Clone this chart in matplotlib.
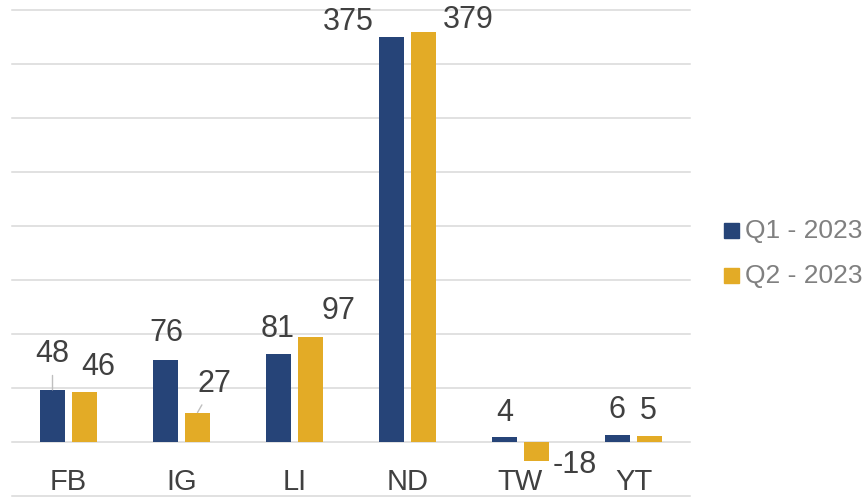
import matplotlib
matplotlib.use("Agg")
import matplotlib.pyplot as plt
import numpy as np

categories = ["FB", "IG", "LI", "ND", "TW", "YT"]
q1_values = [48, 76, 81, 375, 4, 6]
q2_values = [46, 27, 97, 379, -18, 5]
series_names = ["Q1 - 2023", "Q2 - 2023"]

BLUE = "#264478"
GOLD = "#E3AB26"
TEXT = "#404040"
GRID = "#d9d9d9"
FONT = "Liberation Sans"

W, H = 866, 499
fig = plt.figure(figsize=(W / 100, H / 100), dpi=100)
ax = fig.add_axes([12 / W, 1 - 495.7 / H, 678 / W, (495.7 - 9.5) / H])
ax.set_xlim(-0.5, len(categories) - 0.5)
ax.set_ylim(-50, 400)
ax.set_axis_off()

for yv in np.arange(-50, 401, 50):
    ax.axhline(yv, color=GRID, lw=1.1, zorder=0, clip_on=False)

x = np.arange(len(categories))
bw = 0.221
off = 0.1416
ax.bar(x - off, q1_values, bw, color=BLUE, zorder=2)
ax.bar(x + off, q2_values, bw, color=GOLD, zorder=2)

PX = 0.72  # pixels -> points at 100 dpi
# label offsets in pixels (dx, dy) for baseline relative to bar end
q1_off = [(0, 28.3), (0.7, 18.3), (-1, 17.6), (-43, 6.7), (0, 16.6), (0, 17)]
q2_off = [(13.5, 17), (16.7, 21), (28.5, 18), (45, 4), (38.5, -12.3), (-1.5, 17)]
leaders_q1 = {0}
leaders_q2 = {1}

def label(xc, val, dxy, leader):
    kw = dict(textcoords="offset points", ha="center", va="baseline",
              fontsize=22, color=TEXT, family=FONT, zorder=4)
    if leader:
        kw["arrowprops"] = dict(arrowstyle="-", color="#bfbfbf", lw=1.0,
                                shrinkA=3, shrinkB=0)
    ax.annotate(str(val), xy=(xc, val), xytext=(dxy[0] * PX, dxy[1] * PX), **kw)

for i in range(len(categories)):
    label(x[i] - off, q1_values[i], q1_off[i], i in leaders_q1)
    label(x[i] + off, q2_values[i], q2_off[i], i in leaders_q2)

for i, c in enumerate(categories):
    ax.annotate(c, xy=(x[i], 0), xytext=(0, -48.7 * PX), textcoords="offset points",
                ha="center", va="baseline", fontsize=21, color=TEXT, family=FONT)

# legend
colors = [BLUE, GOLD]
for k, (name, col) in enumerate(zip(series_names, colors)):
    yc = 230.5 + 45 * k
    fig.patches.append(plt.Rectangle((724 / W, 1 - (yc + 7.2) / H), 14.5 / W, 14.4 / H,
                                     transform=fig.transFigure, color=col))
    fig.text(745 / W, 1 - yc / H, name, ha="left", va="center", fontsize=19,
             color="#808080", family=FONT)

fig.savefig("out.png", dpi=100)
